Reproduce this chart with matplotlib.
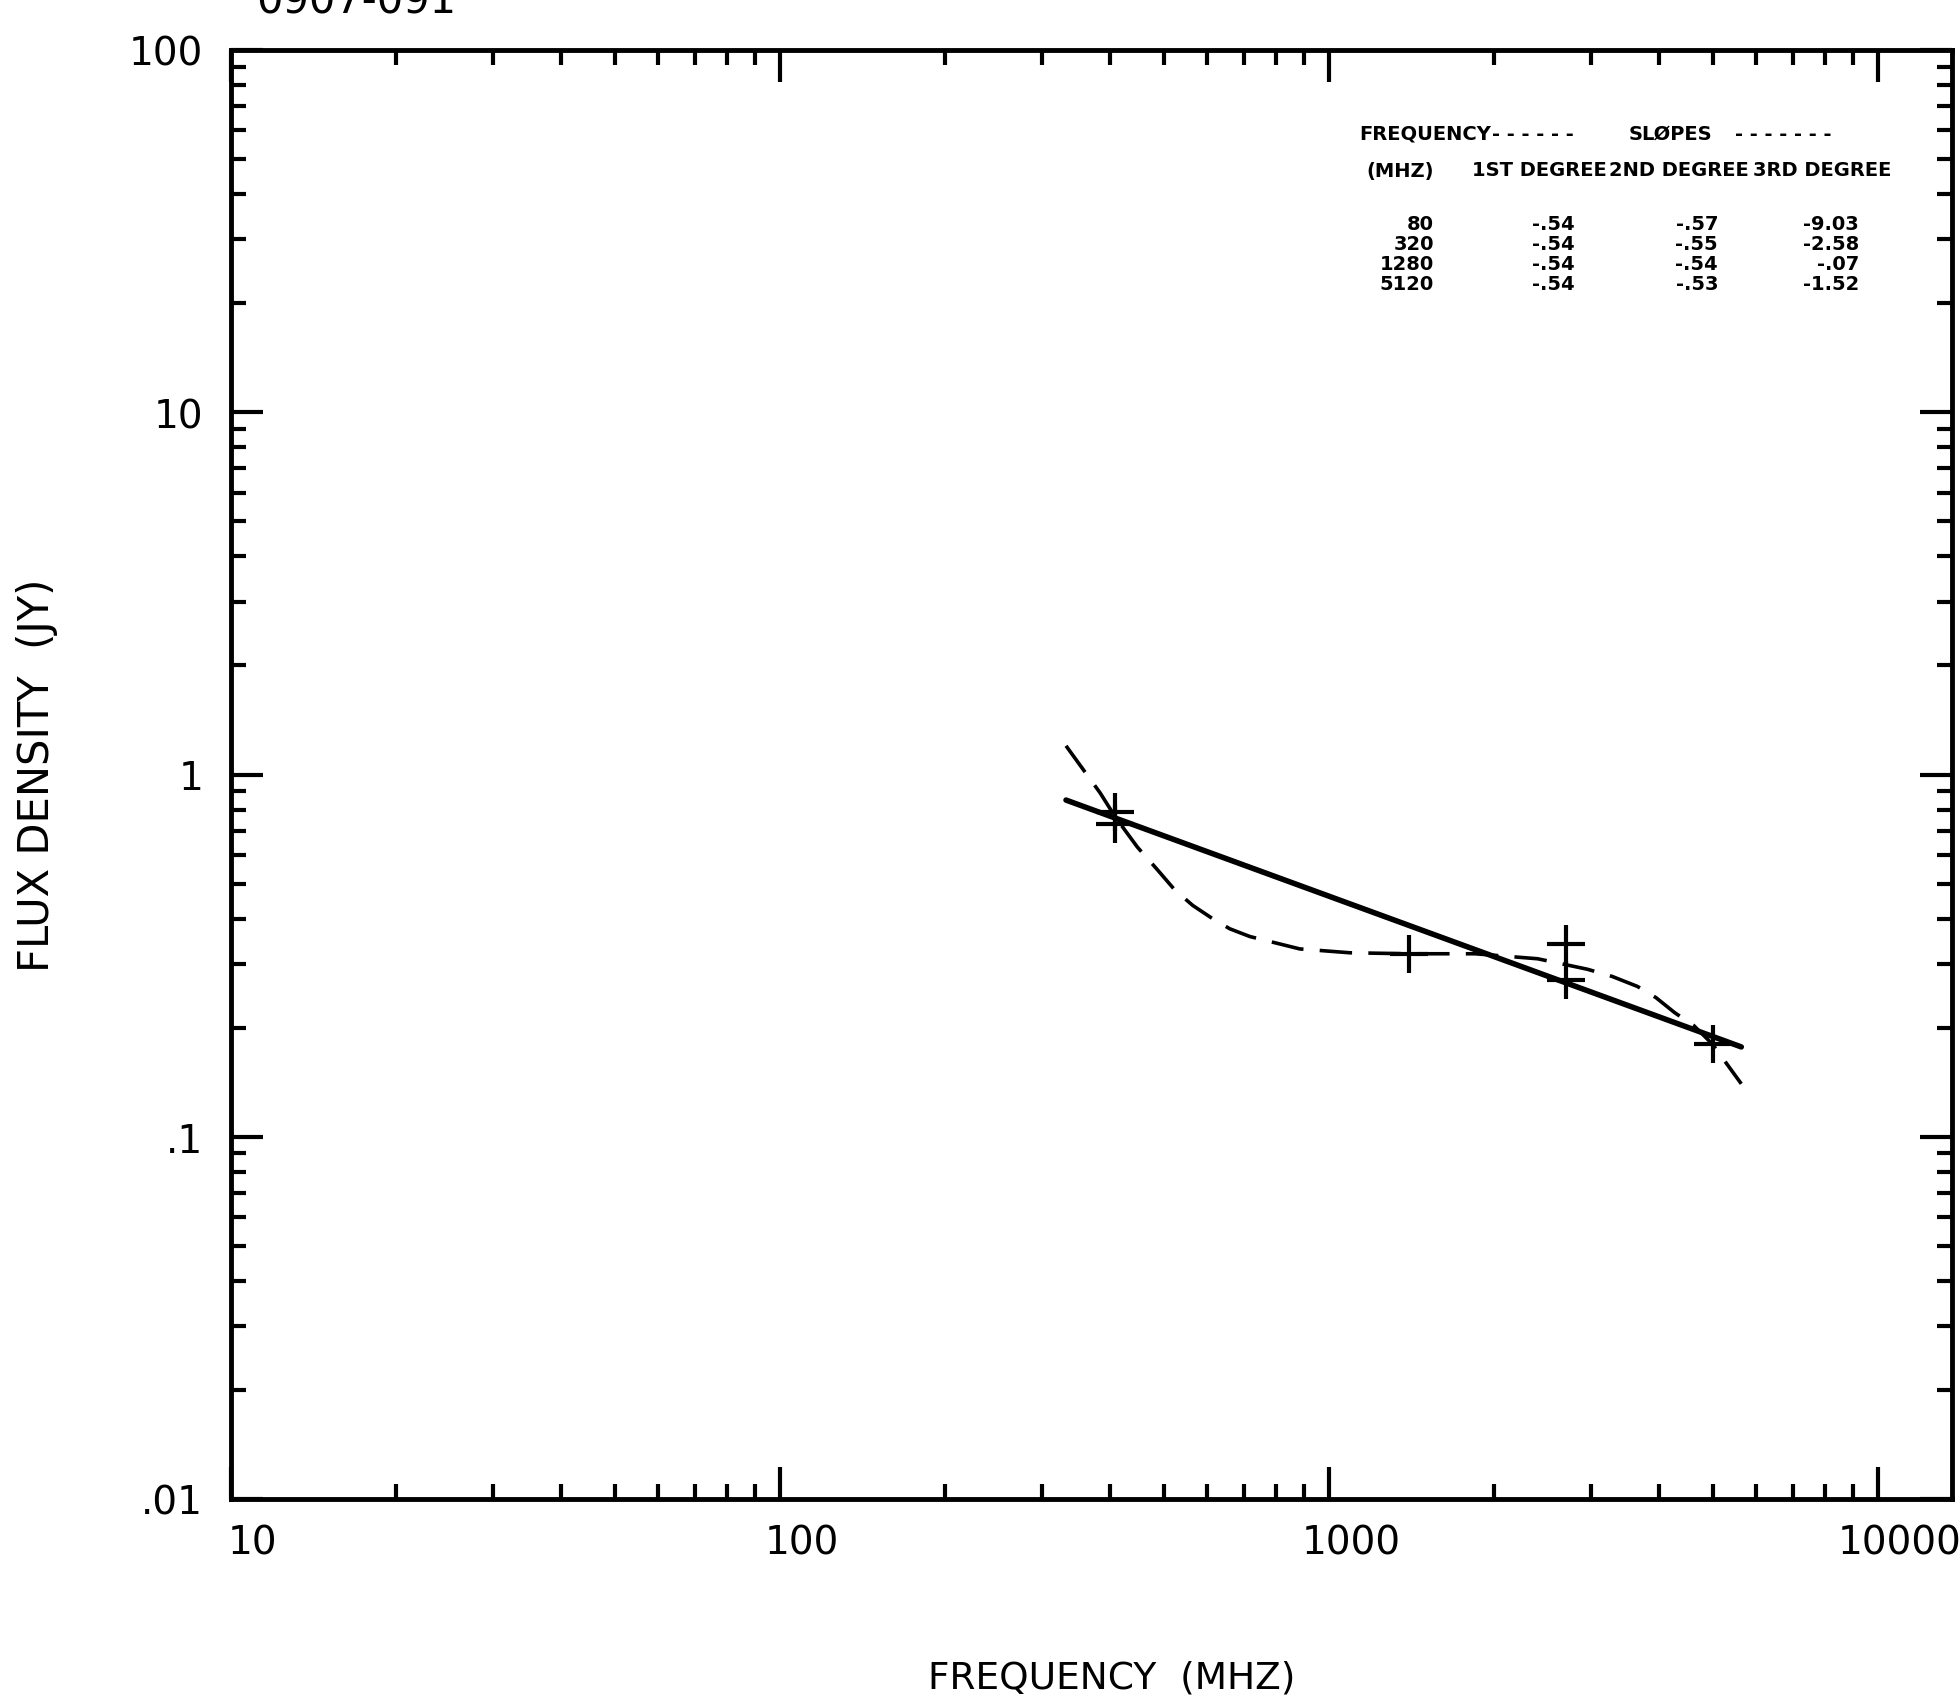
import numpy as np
import matplotlib
matplotlib.use('Agg')
import matplotlib.pyplot as plt
import matplotlib.transforms as mtransforms
from matplotlib.ticker import FixedLocator, LogLocator, NullFormatter

# ---- data ----
obs_freq = [408, 408, 1400, 2700, 2700, 5000]          # MHz
obs_flux = [0.79, 0.73, 0.32, 0.34, 0.27, 0.18]        # Jy

# 1st degree fit (straight line in log-log)
fit1_freq = [332, 5640]
fit1_flux = [0.85, 0.177]

# 3rd degree fit
fit3_freq = [332, 383, 409, 448, 485, 524, 565, 614, 660, 718, 885, 1092, 1400, 1845,
             2400, 2958, 3282, 3648, 3945, 4266, 4617, 5000, 5640]
fit3_flux = [1.20, 0.89, 0.76, 0.63, 0.55, 0.48, 0.435, 0.40, 0.375, 0.357, 0.33, 0.322,
             0.32, 0.32, 0.31, 0.29, 0.277, 0.26, 0.242, 0.22, 0.203, 0.18, 0.14]

# slope table
tab_freq = ['80', '320', '1280', '5120']
slope_1st = ['-.54', '-.54', '-.54', '-.54']
slope_2nd = ['-.57', '-.55', '-.54', '-.53']
slope_3rd = ['-9.03', '-2.58', '-.07', '-1.52']

xticks = [10, 100, 1000, 10000]
xticklabels = ['10', '100', '1000', '10000']
yticks = [0.01, 0.1, 1, 10, 100]
yticklabels = ['.01', '.1', '1', '10', '100']

# ---- figure ----
W, H = 1960, 1708
fig = plt.figure(figsize=(W / 100, H / 100), dpi=100)
fig.patch.set_facecolor('white')
ax = fig.add_axes([231 / W, 1 - 1500 / H, (1952 - 231) / W, (1500 - 51) / H])

ax.set_xscale('log')
ax.set_yscale('log')
ax.set_xlim(10, 13650)
ax.set_ylim(0.01, 100)

ax.plot(fit1_freq, fit1_flux, color='black', linewidth=4, solid_capstyle='round')
ax.plot(fit3_freq, fit3_flux, color='black', linewidth=2.6, dashes=(9, 4.5))
ax.plot(obs_freq, obs_flux, linestyle='none', marker='+', markersize=27,
        markeredgewidth=3, color='black')

for s in ax.spines.values():
    s.set_linewidth(3.5)

ax.xaxis.set_major_locator(FixedLocator(xticks))
ax.xaxis.set_minor_locator(LogLocator(base=10, subs=np.arange(2, 10)))
ax.yaxis.set_major_locator(FixedLocator(yticks))
ax.yaxis.set_minor_locator(LogLocator(base=10, subs=np.arange(2, 10)))
ax.xaxis.set_minor_formatter(NullFormatter())
ax.yaxis.set_minor_formatter(NullFormatter())
ax.set_xticklabels(xticklabels)
ax.set_yticklabels(yticklabels)

ax.tick_params(which='both', direction='in', top=True, right=True, width=3)
ax.tick_params(which='major', length=23)
ax.tick_params(which='minor', length=11)
ax.tick_params(axis='x', which='major', pad=18, labelsize=28)
ax.tick_params(axis='y', which='major', pad=20, labelsize=28)

# x tick labels sit a little to the right of their ticks
shift = mtransforms.ScaledTranslation(0.22, 0, fig.dpi_scale_trans)
for lab in ax.get_xticklabels():
    lab.set_transform(lab.get_transform() + shift)

fig.text(37 / W, 1 - 775 / H, 'FLUX DENSITY  (JY)', rotation=90, ha='center', va='center',
         fontsize=30)
fig.text(1112 / W, 1 - 1679 / H, 'FREQUENCY  (MHZ)', ha='center', va='center', fontsize=27)

# source name, cut off at top edge
fig.text(256 / W, 1 - 22 / H, '0907-091', ha='left', va='bottom', fontsize=30)

# slope table
tfont = dict(fontweight='bold', fontsize=14)
def fx(px):
    return px / W
def fy(py):
    return 1 - py / H

fig.text(fx(1359), fy(134), 'FREQUENCY', ha='left', va='center', **tfont)
fig.text(fx(1492), fy(134), '- - - - - -', ha='left', va='center', **tfont)
fig.text(fx(1670), fy(134), 'SLØPES', ha='center', va='center', **tfont)
fig.text(fx(1735), fy(134), '- - - - - - -', ha='left', va='center', **tfont)
fig.text(fx(1434), fy(171), '(MHZ)', ha='right', va='center', **tfont)
fig.text(fx(1539), fy(171), '1ST DEGREE', ha='center', va='center', **tfont)
fig.text(fx(1679), fy(171), '2ND DEGREE', ha='center', va='center', **tfont)
fig.text(fx(1822), fy(171), '3RD DEGREE', ha='center', va='center', **tfont)

row_y = [225, 245, 265, 285]
for i in range(len(tab_freq)):
    fig.text(fx(1434), fy(row_y[i]), tab_freq[i], ha='right', va='center', **tfont)
    fig.text(fx(1575), fy(row_y[i]), slope_1st[i], ha='right', va='center', **tfont)
    fig.text(fx(1718), fy(row_y[i]), slope_2nd[i], ha='right', va='center', **tfont)
    fig.text(fx(1859), fy(row_y[i]), slope_3rd[i], ha='right', va='center', **tfont)

fig.savefig('out.png', dpi=100, facecolor='white')
